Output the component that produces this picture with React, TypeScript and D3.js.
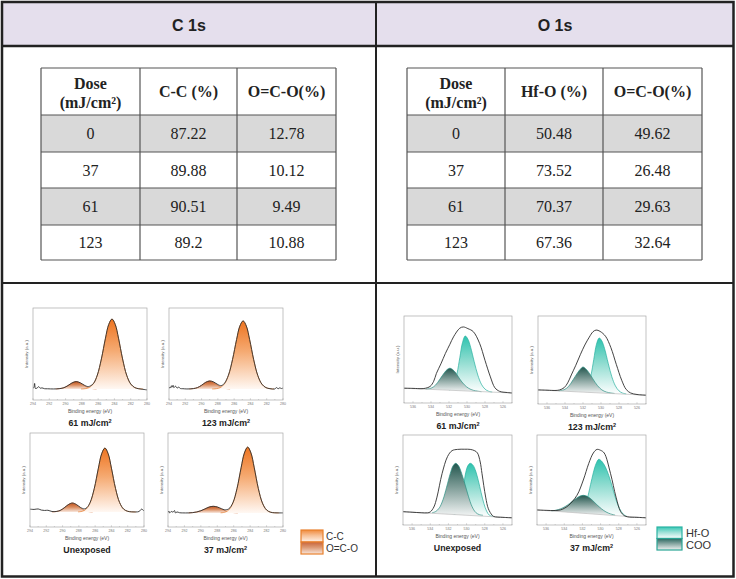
import React from 'react';
import * as d3 from 'd3';

type Pt = [number, number]; // [binding energy (eV), intensity (a.u.)]

// ---------- table values ----------
const doses = ['0', '37', '61', '123'];
const c1sCC = ['87.22', '89.88', '90.51', '89.2'];
const c1sOCO = ['12.78', '10.12', '9.49', '10.88'];
const o1sHfO = ['50.48', '73.52', '70.37', '67.36'];
const o1sOCO = ['49.62', '26.48', '29.63', '32.64'];

// ---------- axis ticks ----------
const c1sTicks = [294, 292, 290, 288, 286, 284, 282, 280];
const o1sTicks = [536, 534, 532, 530, 528, 526];

// ---------- C 1s spectra ----------
const c1sBg61: Pt[] = [[294, 12], [280, 12]];
const c1sEnv61: Pt[] = [[294, 13], [293.9, 13.5], [293.8, 18], [293.7, 12.5], [293.5, 13], [293.3, 14.5], [293.1, 12.8], [292.9, 13.2], [292.6, 12.3], [292.2, 12.2], [291.5, 12], [290.7, 12.4], [290.2, 13.4], [289.7, 15.7], [289.2, 18.6], [288.7, 20], [288.2, 18.7], [287.7, 16.1], [287.2, 14.6], [286.6, 17.7], [286.1, 27.1], [285.6, 44.7], [285.1, 67.2], [284.7, 82.1], [284.3, 88], [283.9, 82.1], [283.5, 67.2], [283.0, 44.7], [282.5, 27], [282.0, 17.4], [281.5, 13.5], [281.0, 12.2], [280.5, 11.6], [280, 11]];
const c1sCC61: Pt[] = [[288.1, 12], [287.6, 12.3], [287.1, 13.5], [286.6, 17.4], [286.1, 27], [285.6, 44.7], [285.1, 67.2], [284.7, 82.1], [284.3, 88], [283.9, 82.1], [283.5, 67.2], [283.0, 44.7], [282.5, 27], [282.0, 17.4], [281.5, 13.5], [281.0, 12.3], [280.5, 12]];
const c1sOCO61: Pt[] = [[291.2, 12], [290.7, 12.4], [290.2, 13.4], [289.7, 15.7], [289.2, 18.6], [288.7, 20], [288.2, 18.6], [287.7, 15.7], [287.2, 13.4], [286.7, 12.4], [286.2, 12]];

const c1sBg123: Pt[] = [[294, 12], [280, 12]];
const c1sEnv123: Pt[] = [[294, 12.5], [293.9, 14], [293.8, 13], [293.7, 15.5], [293.6, 14], [293.5, 16], [293.4, 13.5], [293.2, 15], [293.0, 13], [292.8, 14], [292.6, 12.5], [292.3, 12.3], [291.8, 12], [291.0, 12.4], [290.5, 13.5], [290.0, 16], [289.5, 19.2], [289.0, 20.7], [288.5, 19.5], [288.0, 16.8], [287.6, 15.6], [287.2, 18], [286.7, 27], [286.2, 43.9], [285.7, 65.7], [285.3, 80.3], [284.9, 86], [284.5, 80.3], [284.1, 65.7], [283.6, 43.8], [283.1, 26.7], [282.6, 17.3], [282.1, 13.5], [281.6, 12.3], [281.0, 12], [280.8, 13.5], [280.6, 12.2], [280.4, 13.2], [280.2, 12.5], [280, 13]];
const c1sCC123: Pt[] = [[288.7, 12], [288.2, 12.3], [287.7, 13.5], [287.2, 17.3], [286.7, 26.7], [286.2, 43.8], [285.7, 65.7], [285.3, 80.3], [284.9, 86], [284.5, 80.3], [284.1, 65.7], [283.6, 43.8], [283.1, 26.7], [282.6, 17.3], [282.1, 13.5], [281.6, 12.3], [281.1, 12]];
const c1sOCO123: Pt[] = [[291.5, 12], [291.0, 12.4], [290.5, 13.5], [290.0, 16], [289.5, 19.2], [289.0, 20.7], [288.5, 19.2], [288.0, 16], [287.5, 13.6], [287.0, 12.5], [286.5, 12]];

const c1sBg0: Pt[] = [[294, 16], [280, 16]];
const c1sEnv0: Pt[] = [[294, 19], [293.5, 18.7], [293, 19.2], [292.6, 18], [292.2, 17.6], [291.8, 17.8], [291.3, 16.5], [290.8, 16.5], [290.3, 17.6], [289.8, 20.4], [289.3, 23.8], [288.8, 25.5], [288.3, 23.9], [287.8, 20.8], [287.3, 19.3], [287.0, 20.7], [286.6, 26.4], [286.1, 41.2], [285.6, 62.6], [285.2, 77.9], [284.8, 84], [284.4, 77.9], [284.0, 62.6], [283.5, 41.1], [283.0, 26.1], [282.5, 19], [282.0, 16.7], [281.5, 16.1], [281, 16], [280.6, 16.5], [280.3, 19], [280, 17]];
const c1sCC0: Pt[] = [[288.1, 16.1], [287.6, 16.7], [287.1, 19], [286.6, 26.1], [286.1, 41.1], [285.6, 62.6], [285.2, 77.9], [284.8, 84], [284.4, 77.9], [284.0, 62.6], [283.5, 41.1], [283.0, 26.1], [282.5, 19], [282.0, 16.7], [281.5, 16.1], [281.0, 16]];
const c1sOCO0: Pt[] = [[291.3, 16], [290.8, 16.4], [290.3, 17.6], [289.8, 20.4], [289.3, 23.8], [288.8, 25.5], [288.3, 23.8], [287.8, 20.4], [287.3, 17.6], [286.8, 16.4], [286.3, 16]];

const c1sBg37: Pt[] = [[294, 15], [280, 15]];
const c1sEnv37: Pt[] = [[294, 15.5], [293.9, 17], [293.8, 15], [293.6, 16.5], [293.4, 15.8], [293.2, 17.5], [293.1, 15], [292.9, 16], [292.6, 15.2], [292.2, 15], [291.5, 15], [291.0, 15.3], [290.5, 16], [290.0, 17.3], [289.5, 19.2], [289.0, 21.2], [288.5, 22], [288.0, 21.3], [287.5, 19.5], [287.1, 18.3], [286.6, 19.3], [286.1, 25.8], [285.6, 40.9], [285.1, 63], [284.7, 78.7], [284.3, 85], [283.9, 78.7], [283.5, 63], [283.0, 40.8], [282.5, 25.4], [282.0, 18.1], [281.5, 15.7], [281.0, 15.1], [280.5, 15], [280, 15]];
const c1sCC37: Pt[] = [[287.6, 15.1], [287.1, 15.7], [286.6, 18.1], [286.1, 25.4], [285.6, 40.8], [285.1, 63], [284.7, 78.7], [284.3, 85], [283.9, 78.7], [283.5, 63], [283.0, 40.8], [282.5, 25.4], [282.0, 18.1], [281.5, 15.7], [281.0, 15.1], [280.5, 15]];
const c1sOCO37: Pt[] = [[291.5, 15], [291.0, 15.3], [290.5, 16], [290.0, 17.3], [289.5, 19.2], [289.0, 21.2], [288.5, 22], [288.0, 21.2], [287.5, 19.2], [287.0, 17.3], [286.5, 16], [286.0, 15.3], [285.5, 15]];

// ---------- O 1s spectra ----------
const o1sBg61: Pt[] = [[537, 17], [525, 11.5]];
const o1sEnv61: Pt[] = [[537, 17], [536, 16.8], [535, 16.5], [534.6, 17], [534.1, 19], [533.7, 25], [533.4, 34], [532.9, 45], [532.4, 57], [531.9, 67.5], [531.5, 76], [530.8, 86], [530.4, 87.4], [529.9, 85.5], [529.3, 82], [528.6, 68.6], [528.0, 49], [527.4, 30], [526.9, 17.5], [526.4, 13.5], [526.0, 12.5], [525.5, 12], [525, 11.5]];
const o1sHfO61: Pt[] = [[532.0, 14.9], [531.7, 16.7], [531.4, 22.4], [531.1, 34.4], [530.8, 52], [530.5, 69.5], [530.2, 77], [529.9, 73.4], [529.6, 64.2], [529.2, 47.5], [528.8, 32.1], [528.4, 21.6], [528.0, 16], [527.6, 13.5], [527.2, 12.6]];
const o1sCOO61: Pt[] = [[534.6, 15.9], [534.0, 17], [533.5, 20.5], [533.0, 27.5], [532.5, 35], [532.2, 38.5], [531.9, 40], [531.6, 38.5], [531.2, 34], [530.8, 27.5], [530.3, 21], [529.8, 16.8], [529.3, 14.6], [528.8, 13.6], [528.4, 13]];

const o1sBg123: Pt[] = [[537, 16], [525, 10]];
const o1sEnv123: Pt[] = [[537, 16], [536, 15.7], [535, 15.4], [534.6, 16], [534.1, 18.5], [533.7, 24], [533.3, 33], [532.8, 44], [532.3, 56], [531.8, 67], [531.3, 76], [530.9, 82], [530.55, 84], [530.1, 82.5], [529.5, 77], [528.9, 64], [528.3, 45], [527.7, 27], [527.2, 16.5], [526.7, 12.5], [526.0, 10.8], [525, 10]];
const o1sHfO123: Pt[] = [[532.0, 14], [531.7, 16], [531.4, 21.6], [531.1, 33.3], [530.8, 50.8], [530.5, 68], [530.2, 75], [529.9, 71.5], [529.6, 62.8], [529.2, 46.3], [528.8, 31], [528.4, 20.6], [528.0, 14.9], [527.6, 12.4], [527.2, 11.5]];
const o1sCOO123: Pt[] = [[534.7, 15], [534.1, 16.2], [533.6, 20], [533.1, 27.5], [532.6, 35.5], [532.3, 39.5], [532.0, 42], [531.7, 40], [531.3, 35], [530.9, 28.5], [530.4, 21], [529.9, 16], [529.4, 13.6], [528.9, 12.5], [528.5, 12]];

const o1sBg0: Pt[] = [[537, 14.8], [525, 8]];
const o1sEnv0: Pt[] = [[537, 14.8], [536, 14.2], [535, 13.6], [534.3, 13.5], [534.0, 14.5], [533.6, 20], [533.26, 31], [532.7, 57], [532.1, 76], [531.6, 82.6], [531.0, 84], [530.2, 84.2], [529.6, 84], [529.1, 82.5], [528.8, 80], [528.5, 70], [528.3, 57], [527.9, 31], [527.6, 18], [527.2, 11], [527.0, 9.4], [526.0, 8.5], [525, 8]];
const o1sHfO0: Pt[] = [[531.4, 11.6], [531.0, 13.5], [530.7, 20], [530.4, 37], [530.1, 58], [529.85, 66], [529.6, 68.5], [529.3, 66.5], [529.0, 60], [528.7, 49], [528.4, 36], [528.1, 24], [527.8, 15.5], [527.5, 11], [527.1, 9.3]];
const o1sCOO0: Pt[] = [[533.8, 13.6], [533.4, 15], [533.0, 19], [532.6, 28], [532.2, 42], [531.8, 57], [531.5, 65.5], [531.2, 68.5], [530.9, 66], [530.6, 59], [530.2, 46], [529.8, 32], [529.4, 20.5], [529.0, 14], [528.6, 11.5], [528.2, 10.8]];

const o1sBg37: Pt[] = [[537, 16.7], [525, 8]];
const o1sEnv37: Pt[] = [[537, 16.7], [536, 16.3], [535, 16.1], [534.4, 16.8], [534.0, 18.5], [533.5, 22], [532.6, 33], [531.9, 50], [531.3, 68.5], [530.8, 80], [530.4, 84], [530.0, 83], [529.6, 80], [528.9, 57], [528.3, 31], [527.8, 15], [527.4, 10.5], [527.0, 9], [526, 8.5], [525, 8]];
const o1sHfO37: Pt[] = [[532.3, 14], [531.9, 17], [531.5, 28], [531.1, 45], [530.8, 58], [530.5, 68], [530.2, 73], [529.9, 71], [529.5, 65], [529.1, 55], [528.7, 42], [528.3, 28], [527.9, 18], [527.5, 12], [527.1, 9.5]];
const o1sCOO37: Pt[] = [[535.4, 15.6], [534.9, 16.5], [534.4, 18], [533.9, 20.5], [533.4, 24], [532.9, 28], [532.4, 31.5], [531.9, 33], [531.4, 31.5], [530.9, 27.5], [530.4, 22.5], [529.9, 18], [529.4, 14.5], [528.9, 12.3], [528.4, 11]];

// ---------- layout ----------
const W = 736;
const H = 579;
const sans = 'Liberation Sans, Arial, sans-serif';
const serif = 'Liberation Serif, Times New Roman, serif';

interface Comp { pts: Pt[]; fill: string; stroke: string }
interface PanelProps {
  id: string;
  frame: [number, number, number, number];
  domain: [number, number];
  ticks: number[];
  bg: Pt[];
  env: Pt[];
  comps: Comp[];
  caption: string;
  sup: boolean;
  showBg: boolean;
}

function Spectrum({ id, frame, domain, ticks, bg, env, comps, caption, sup, showBg }: PanelProps) {
  const [x, y, w, h] = frame;
  const sx = d3.scaleLinear().domain(domain).range([x, x + w]);
  const sy = d3.scaleLinear().domain([0, 100]).range([y + h, y]);
  const bgAt = d3.scaleLinear().domain(bg.map(p => p[0])).range(bg.map(p => p[1]));
  const curve = d3.curveCatmullRom.alpha(0.5);
  const line = d3.line<Pt>().x(p => sx(p[0])).y(p => sy(p[1])).curve(curve);
  const area = d3.area<Pt>().x(p => sx(p[0])).y1(p => sy(p[1])).y0(p => sy(bgAt(p[0]))).curve(curve);
  const minor = d3.range(Math.min(...domain), Math.max(...domain) + 0.01, 1);
  return (
    <g>
      <clipPath id={`clip-${id}`}><rect x={x} y={y} width={w} height={h} /></clipPath>
      <g clipPath={`url(#clip-${id})`}>
        {comps.map((c, i) => (
          <g key={i}>
            <path d={area(c.pts) || ''} fill={c.fill} stroke="none" />
            <path d={line(c.pts) || ''} fill="none" stroke={c.stroke} strokeWidth={0.7} />
          </g>
        ))}
        {showBg && <path d={line(bg) || ''} fill="none" stroke="#c4c4c4" strokeWidth={0.8} />}
        <path d={line(env) || ''} fill="none" stroke="#2e2e2e" strokeWidth={0.9} />
      </g>
      <rect x={x} y={y} width={w} height={h} fill="none" stroke="#a8a8a8" strokeWidth={0.7} />
      {minor.map(t => (
        <line key={t} x1={sx(t)} x2={sx(t)} y1={y + h} y2={y + h - (ticks.includes(t) ? 1.8 : 1)} stroke="#999" strokeWidth={0.4} />
      ))}
      {ticks.map(t => (
        <text key={t} x={sx(t)} y={y + h + 5} fontSize={3.6} fill="#777" textAnchor="middle" fontFamily={sans}>{t}</text>
      ))}
      <text x={x + w / 2} y={y + h + 13} fontSize={5} fill="#555" textAnchor="middle" fontFamily={sans}>Binding energy (eV)</text>
      <text transform={`translate(${x - 5},${y + h / 2}) rotate(-90)`} fontSize={4.4} fill="#666" textAnchor="middle" fontFamily={sans}>Intensity (a.u.)</text>
      <text x={x + w / 2} y={y + h + 26} fontSize={8.8} fontWeight="bold" fill="#222" textAnchor="middle" fontFamily={sans}>
        {caption}
        {sup && <tspan fontSize={5.5} dy={-3.5}>2</tspan>}
      </text>
    </g>
  );
}

function DataTable({ cols, head, a, b }: { cols: number[]; head: string; a: string[]; b: string[] }) {
  const rows = [68, 115, 152, 188, 225, 260];
  const cx = (i: number) => (cols[i] + cols[i + 1]) / 2;
  return (
    <g fontFamily={serif} fill="#222">
      {doses.map((d, i) => (
        <rect key={d} x={cols[0]} y={rows[i + 1]} width={cols[3] - cols[0]} height={rows[i + 2] - rows[i + 1]} fill={i % 2 === 0 ? '#d9d9d9' : '#ffffff'} />
      ))}
      {rows.map(r => (
        <line key={r} x1={cols[0]} x2={cols[3]} y1={r} y2={r} stroke="#555" strokeWidth={1.2} />
      ))}
      {cols.map(c => (
        <line key={c} x1={c} x2={c} y1={rows[0]} y2={rows[5]} stroke="#555" strokeWidth={1.2} />
      ))}
      <text x={cx(0)} y={89} fontSize={16} fontWeight="bold" textAnchor="middle">Dose</text>
      <text x={cx(0)} y={108} fontSize={16} fontWeight="bold" textAnchor="middle">(mJ/cm²)</text>
      <text x={cx(1)} y={97} fontSize={16} fontWeight="bold" textAnchor="middle">{head}</text>
      <text x={cx(2)} y={97} fontSize={16} fontWeight="bold" textAnchor="middle">O=C-O(%)</text>
      {doses.map((d, i) => {
        const yy = (rows[i + 1] + rows[i + 2]) / 2 + 5.5;
        return (
          <g key={d} fontSize={16}>
            <text x={cx(0)} y={yy} textAnchor="middle">{d}</text>
            <text x={cx(1)} y={yy} textAnchor="middle">{a[i]}</text>
            <text x={cx(2)} y={yy} textAnchor="middle">{b[i]}</text>
          </g>
        );
      })}
    </g>
  );
}

const ccComp = (pts: Pt[]): Comp => ({ pts, fill: 'url(#gCC)', stroke: '#e57a2a' });
const ocoComp = (pts: Pt[]): Comp => ({ pts, fill: 'url(#gOCO)', stroke: '#d76d33' });
const hfoComp = (pts: Pt[]): Comp => ({ pts, fill: 'url(#gHfO)', stroke: '#27b09f' });
const cooComp = (pts: Pt[]): Comp => ({ pts, fill: 'url(#gCOO)', stroke: '#2a8f83' });

const c1sPanels: PanelProps[] = [
  { id: 'c61', frame: [33, 308, 114, 92], domain: [294, 280], ticks: c1sTicks, bg: c1sBg61, env: c1sEnv61, comps: [ocoComp(c1sOCO61), ccComp(c1sCC61)], caption: '61 mJ/cm', sup: true, showBg: false },
  { id: 'c123', frame: [169, 308, 114, 92], domain: [294, 280], ticks: c1sTicks, bg: c1sBg123, env: c1sEnv123, comps: [ocoComp(c1sOCO123), ccComp(c1sCC123)], caption: '123 mJ/cm', sup: true, showBg: false },
  { id: 'c0', frame: [30, 433, 114, 94], domain: [294, 280], ticks: c1sTicks, bg: c1sBg0, env: c1sEnv0, comps: [ocoComp(c1sOCO0), ccComp(c1sCC0)], caption: 'Unexposed', sup: false, showBg: false },
  { id: 'c37', frame: [168, 433, 115, 94], domain: [294, 280], ticks: c1sTicks, bg: c1sBg37, env: c1sEnv37, comps: [ocoComp(c1sOCO37), ccComp(c1sCC37)], caption: '37 mJ/cm', sup: true, showBg: false },
];

const o1sPanels: PanelProps[] = [
  { id: 'o61', frame: [404, 316, 108, 87], domain: [537, 525], ticks: o1sTicks, bg: o1sBg61, env: o1sEnv61, comps: [hfoComp(o1sHfO61), cooComp(o1sCOO61)], caption: '61 mJ/cm', sup: true, showBg: true },
  { id: 'o123', frame: [538, 316, 108, 88], domain: [537, 525], ticks: o1sTicks, bg: o1sBg123, env: o1sEnv123, comps: [hfoComp(o1sHfO123), cooComp(o1sCOO123)], caption: '123 mJ/cm', sup: true, showBg: true },
  { id: 'o0', frame: [403, 435, 109, 90], domain: [537, 525], ticks: o1sTicks, bg: o1sBg0, env: o1sEnv0, comps: [hfoComp(o1sHfO0), cooComp(o1sCOO0)], caption: 'Unexposed', sup: false, showBg: true },
  { id: 'o37', frame: [537, 435, 109, 90], domain: [537, 525], ticks: o1sTicks, bg: o1sBg37, env: o1sEnv37, comps: [hfoComp(o1sHfO37), cooComp(o1sCOO37)], caption: '37 mJ/cm', sup: true, showBg: true },
];

function grad(id: string, top: string, mid: string, bottom: string) {
  return (
    <linearGradient id={id} x1="0" y1="0" x2="0" y2="1">
      <stop offset="0%" stopColor={top} />
      <stop offset="45%" stopColor={mid} />
      <stop offset="100%" stopColor={bottom} />
    </linearGradient>
  );
}

export default function App() {
  return (
    <svg width={W} height={H} viewBox={`0 0 ${W} ${H}`} style={{ position: 'absolute', left: 0, top: 0, background: '#fff' }}>
      <defs>
        {grad('gCC', '#ee7420', '#f5aa72', '#fff8f3')}
        {grad('gOCO', '#c2541d', '#d98a5c', '#f8e6dc')}
        {grad('gHfO', '#2ec3af', '#8fdcd0', '#ffffff')}
        {grad('gCOO', '#24574f', '#7f9d98', '#f3f5f5')}
        {grad('sCC', '#f08a3c', '#f7bf95', '#fff3ea')}
        {grad('sOCO', '#c8643a', '#dc9a75', '#f9e6da')}
        {grad('sHfO', '#36c8b5', '#9be0d6', '#ffffff')}
        {grad('sCOO', '#2a6860', '#86a6a1', '#eef3f2')}
      </defs>

      {/* header row */}
      <rect x={2} y={2} width={732} height={44} fill="#e5dfed" />
      <text x={189} y={31} fontSize={16} fontWeight="bold" textAnchor="middle" fontFamily={sans} fill="#222">C 1s</text>
      <text x={555} y={31} fontSize={16} fontWeight="bold" textAnchor="middle" fontFamily={sans} fill="#222">O 1s</text>

      {/* tables */}
      <DataTable cols={[41, 140, 237, 336]} head="C-C (%)" a={c1sCC} b={c1sOCO} />
      <DataTable cols={[407, 505, 603, 702]} head="Hf-O (%)" a={o1sHfO} b={o1sOCO} />

      {/* spectra */}
      {c1sPanels.map(p => <Spectrum key={p.id} {...p} />)}
      {o1sPanels.map(p => <Spectrum key={p.id} {...p} />)}

      {/* legends */}
      <g fontFamily={sans} fill="#333">
        <rect x={301} y={530} width={22} height={12} fill="url(#sCC)" stroke="#e8802e" strokeWidth={1.2} />
        <rect x={301} y={542} width={22} height={12} fill="url(#sOCO)" stroke="#e8802e" strokeWidth={1.2} />
        <text x={326} y={539.5} fontSize={10}>C-C</text>
        <text x={326} y={551.5} fontSize={10}>O=C-O</text>
        <rect x={657} y={527} width={25} height={11.5} fill="url(#sHfO)" stroke="#2bb3a3" strokeWidth={1.2} />
        <rect x={657} y={538.5} width={25} height={11.5} fill="url(#sCOO)" stroke="#2aa595" strokeWidth={1.2} />
        <text x={686} y={536.5} fontSize={11}>Hf-O</text>
        <text x={686} y={548.5} fontSize={11}>COO</text>
      </g>

      {/* frame lines */}
      <line x1={2} x2={734} y1={46} y2={46} stroke="#222" strokeWidth={2.5} />
      <line x1={2} x2={734} y1={283} y2={283} stroke="#222" strokeWidth={2} />
      <line x1={376} x2={376} y1={2} y2={577} stroke="#222" strokeWidth={2} />
      <rect x={2} y={2} width={731.5} height={574.5} fill="none" stroke="#222" strokeWidth={2.5} />
    </svg>
  );
}
